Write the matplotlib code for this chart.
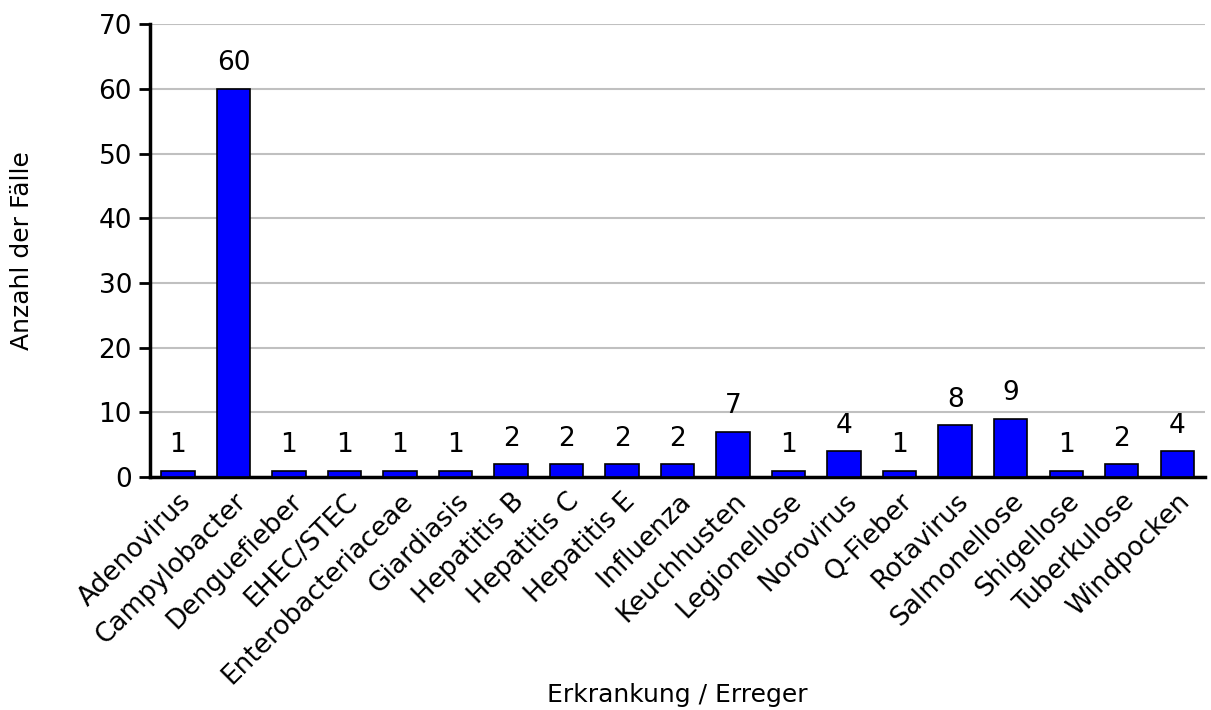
import matplotlib
matplotlib.use("Agg")
import matplotlib.pyplot as plt
import numpy as np

# Data
categories = ["Adenovirus", "Campylobacter", "Denguefieber", "EHEC/STEC",
              "Enterobacteriaceae", "Giardiasis", "Hepatitis B", "Hepatitis C",
              "Hepatitis E", "Influenza", "Keuchhusten", "Legionellose",
              "Norovirus", "Q-Fieber", "Rotavirus", "Salmonellose", "Shigellose",
              "Tuberkulose", "Windpocken"]
cases = [1, 60, 1, 1, 1, 1, 2, 2, 2, 2, 7, 1, 4, 1, 8, 9, 1, 2, 4]
y_ticks = [0, 10, 20, 30, 40, 50, 60, 70]


def main():
    plt.rcParams['font.family'] = ['DejaVu Sans']
    fig = plt.figure(figsize=(12.11, 7.10), dpi=100)
    ax = fig.add_axes([0.124, 0.328, 0.871, 0.638])

    x = np.arange(len(categories))
    bars = ax.bar(x, cases, width=0.6, color='#0000ff', edgecolor='black',
                  linewidth=1.2, zorder=3)
    ax.bar_label(bars, labels=[str(v) for v in cases], padding=9, fontsize=19)

    ax.set_xlim(-0.5, len(categories) - 0.5)
    ax.set_ylim(0, 70)
    ax.set_yticks(y_ticks)
    ax.yaxis.grid(True, color='#c0c0c0', linewidth=1.5, zorder=0)
    ax.set_axisbelow(True)

    ax.set_xticks(x)
    ax.set_xticklabels(categories, rotation=45, ha='right',
                       rotation_mode='anchor', fontsize=19)
    ax.tick_params(axis='x', length=0, pad=8)
    ax.tick_params(axis='y', labelsize=19, length=8, width=2, pad=5)

    for side in ['top', 'right']:
        ax.spines[side].set_visible(False)
    for side in ['left', 'bottom']:
        ax.spines[side].set_linewidth(2.5)

    ax.set_ylabel('Anzahl der Fälle', fontsize=18)
    ax.set_xlabel('Erkrankung / Erreger', fontsize=18)
    ax.yaxis.set_label_coords(-0.11, 0.5)
    ax.xaxis.set_label_coords(0.5, -0.455)

    fig.savefig('out.png', dpi=100)


if __name__ == '__main__':
    main()
